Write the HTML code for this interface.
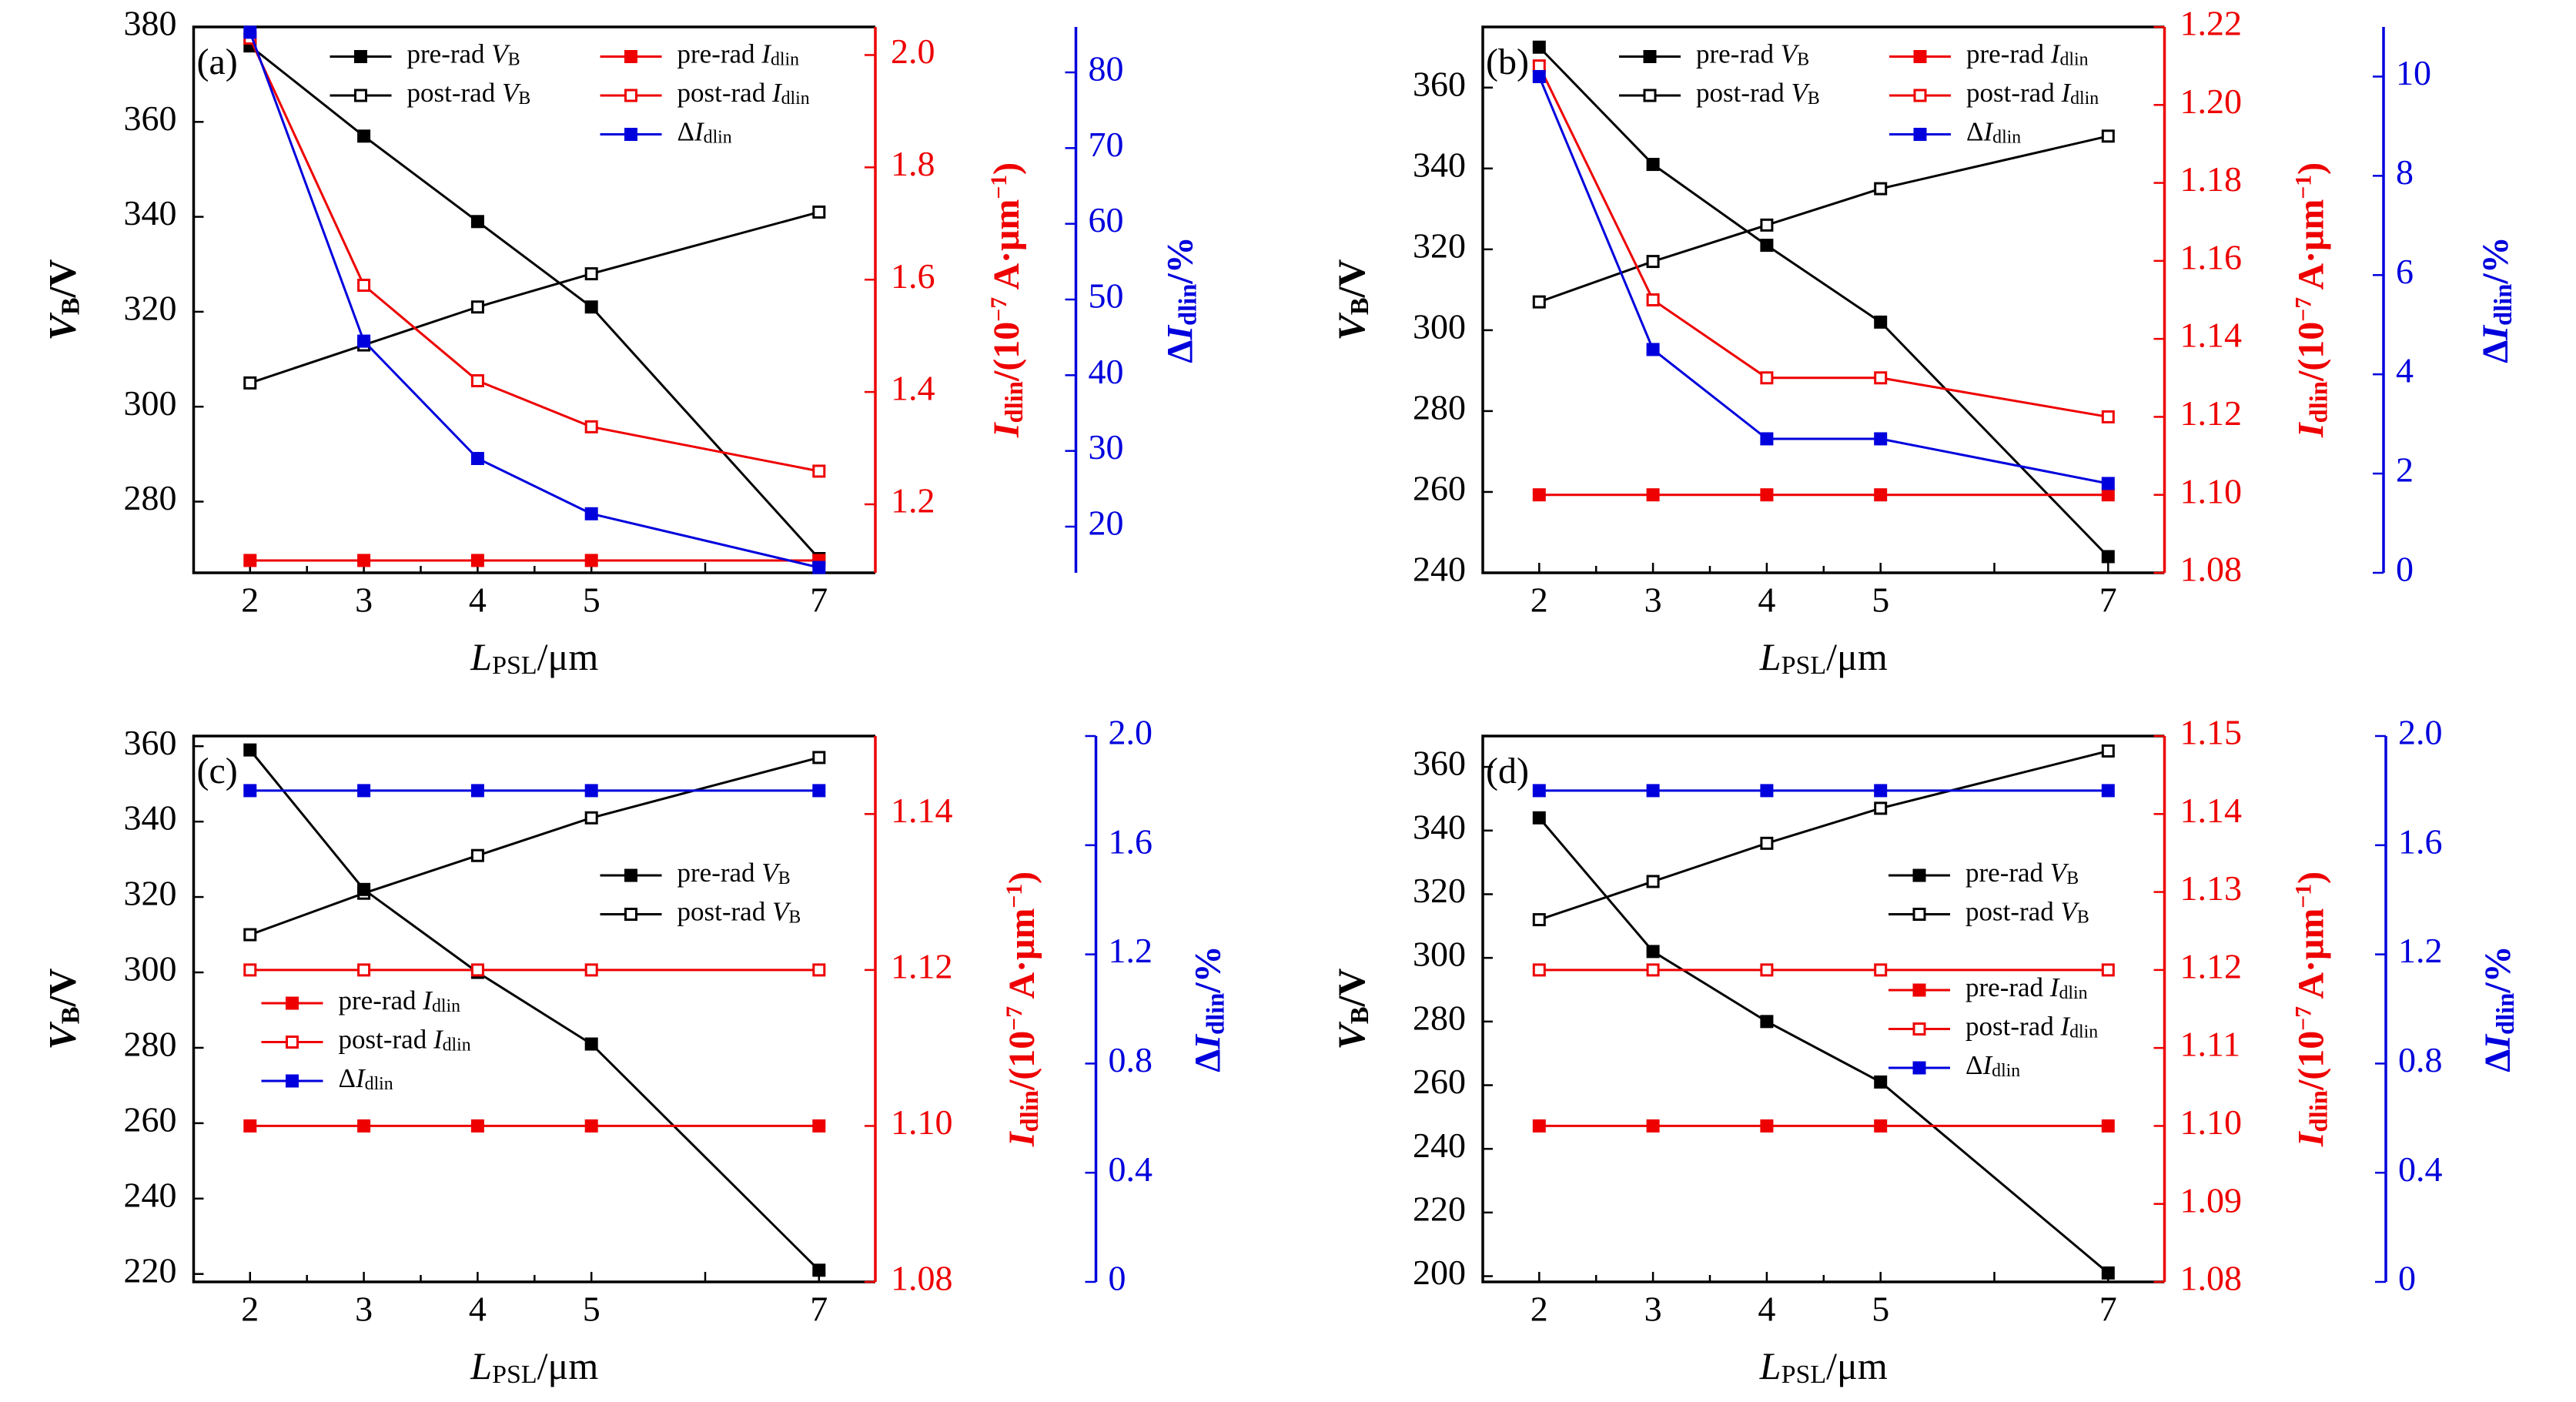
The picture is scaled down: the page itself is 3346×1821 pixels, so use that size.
<!DOCTYPE html>
<html><head><meta charset="utf-8">
<style>
html,body{margin:0;padding:0;background:#fff;}
svg{display:block;font-family:"Liberation Serif","DejaVu Serif",serif;}
</style></head>
<body>
<svg id="fig" width="3346" height="1821" viewBox="0 0 3346 1821" xmlns="http://www.w3.org/2000/svg"></svg>
<script>
// ---- data ----
const xCats = [2, 3, 4, 5, 7];
// panel (a)
const aPreVB = [376, 357, 339, 321, 268];
const aPostVB = [305, 313, 321, 328, 341];
const aPreI = [1.10, 1.10, 1.10, 1.10, 1.10];
const aPostI = [2.03, 1.59, 1.42, 1.338, 1.259];
const aDelta = [85.3, 44.5, 29.0, 21.7, 14.6];
const aVBTicks = [280, 300, 320, 340, 360, 380];
const aITicks = ["1.2", "1.4", "1.6", "1.8", "2.0"];
const aDTicks = [20, 30, 40, 50, 60, 70, 80];
// panel (b)
const bPreVB = [370, 341, 321, 302, 244];
const bPostVB = [307, 317, 326, 335, 348];
const bPreI = [1.10, 1.10, 1.10, 1.10, 1.10];
const bPostI = [1.21, 1.15, 1.13, 1.13, 1.12];
const bDelta = [10.0, 4.5, 2.7, 2.7, 1.8];
const bVBTicks = [240, 260, 280, 300, 320, 340, 360];
const bITicks = ["1.08", "1.10", "1.12", "1.14", "1.16", "1.18", "1.20", "1.22"];
const bDTicks = [0, 2, 4, 6, 8, 10];
// panel (c)
const cPreVB = [359, 322, 300, 281, 221];
const cPostVB = [310, 321, 331, 341, 357];
const cPreI = [1.10, 1.10, 1.10, 1.10, 1.10];
const cPostI = [1.12, 1.12, 1.12, 1.12, 1.12];
const cDelta = [1.8, 1.8, 1.8, 1.8, 1.8];
const cVBTicks = [220, 240, 260, 280, 300, 320, 340, 360];
const cITicks = ["1.08", "1.10", "1.12", "1.14"];
const cDTicks = ["0", "0.4", "0.8", "1.2", "1.6", "2.0"];
// panel (d)
const dPreVB = [344, 302, 280, 261, 201];
const dPostVB = [312, 324, 336, 347, 365];
const dPreI = [1.10, 1.10, 1.10, 1.10, 1.10];
const dPostI = [1.12, 1.12, 1.12, 1.12, 1.12];
const dDelta = [1.8, 1.8, 1.8, 1.8, 1.8];
const dVBTicks = [200, 220, 240, 260, 280, 300, 320, 340, 360];
const dITicks = ["1.08", "1.09", "1.10", "1.11", "1.12", "1.13", "1.14", "1.15"];
const dDTicks = ["0", "0.4", "0.8", "1.2", "1.6", "2.0"];

const NS = "http://www.w3.org/2000/svg";
const svg = document.getElementById("fig");
function mk(tag, attrs, parent) {
  const e = document.createElementNS(NS, tag);
  for (const k in attrs) e.setAttribute(k, attrs[k]);
  (parent || svg).appendChild(e);
  return e;
}
function richText(parent, x, y, parts, size, color, anchor, rot) {
  const t = mk("text", {x: x, y: y, "font-size": size, fill: color, "text-anchor": anchor || "start", "dominant-baseline": "middle"}, parent);
  if (rot) t.setAttribute("transform", "rotate(" + rot + " " + x + " " + y + ")");
  parts.forEach(p => {
    const s = mk("tspan", {}, t);
    s.textContent = p.t;
    if (p.i) s.setAttribute("font-style", "italic");
    if (p.b) s.setAttribute("font-weight", "bold");
    if (p.sub) { s.setAttribute("font-size", size * 0.68); s.setAttribute("baseline-shift", "-25%"); }
    if (p.sup) { s.setAttribute("font-size", size * 0.62); s.setAttribute("baseline-shift", "40%"); }
  });
  return t;
}

function panel(cfg) {
  const g = mk("g", {});
  
  
  const L = cfg.L, T = cfg.T, W = 885.5, H = 709, B = T + H, R = L + W, BX = L + cfg.bo;
  const sx = v => L + 73.3 + (v - 2) * 147.8;
  const sy = v => B - (v - cfg.vb[0]) / (cfg.vb[1] - cfg.vb[0]) * H;
  const si = v => B - (v - cfg.ir[0]) / (cfg.ir[1] - cfg.ir[0]) * H;
  const sd = v => B - (v - cfg.dr[0]) / (cfg.dr[1] - cfg.dr[0]) * H;

  const frame = mk("path", {d: `M${R},${T} L${L},${T} L${L},${B} L${R},${B}`, fill: "none", stroke: "#000", "stroke-width": 3.5}, g);
  
  
  const ra = mk("line", {x1: R, y1: T, x2: R, y2: B, stroke: "#e00", "stroke-width": 3.5}, g);
  
  
  const ba = mk("line", {x1: BX, y1: T, x2: BX, y2: B, stroke: "#00d", "stroke-width": 3.5}, g);
  
  

  [2, 2.5, 3, 3.5, 4, 4.5, 5, 6, 7].forEach(v => {
    const major = Number.isInteger(v);
    mk("line", {x1: sx(v), y1: B, x2: sx(v), y2: B - (major ? 13 : 9), stroke: "#000", "stroke-width": 2.5}, g);
  });
  xCats.forEach(v => {
    const t = mk("text", {x: sx(v), y: B + 40, "font-size": 46, "text-anchor": "middle", "dominant-baseline": "middle", fill: "#000"}, g);
    t.textContent = v;
    
    
  });
  cfg.vbTicks.forEach(v => {
    mk("line", {x1: L, y1: sy(v), x2: L + 13, y2: sy(v), stroke: "#000", "stroke-width": 2.5}, g);
    const t = mk("text", {x: L - 22, y: sy(v), "font-size": 46, "text-anchor": "end", "dominant-baseline": "middle", fill: "#000"}, g);
    t.textContent = v;
    
    
  });
  cfg.iTicks.forEach(s => {
    const v = parseFloat(s);
    mk("line", {x1: R, y1: si(v), x2: R - 14, y2: si(v), stroke: "#e00", "stroke-width": 2.5}, g);
    const t = mk("text", {x: R + 20, y: si(v), "font-size": 46, "text-anchor": "start", "dominant-baseline": "middle", fill: "#e00"}, g);
    t.textContent = s;
    
    
  });
  cfg.dTicks.forEach(s => {
    const v = parseFloat(s);
    mk("line", {x1: BX, y1: sd(v), x2: BX - 14, y2: sd(v), stroke: "#00d", "stroke-width": 2.5}, g);
    const t = mk("text", {x: BX + 16, y: sd(v), "font-size": 46, "text-anchor": "start", "dominant-baseline": "middle", fill: "#00d"}, g);
    t.textContent = s;
    
    
  });

  function series(name, vals, scale, color, filled) {
    const sg = mk("g", {}, g);
    
    
    const pts = vals.map((v, i) => sx(xCats[i]) + "," + scale(v)).join(" ");
    mk("polyline", {points: pts, fill: "none", stroke: color, "stroke-width": 3}, sg);
    vals.forEach((v, i) => {
      const s = filled ? 17 : 14;
      const r = mk("rect", {x: sx(xCats[i]) - s / 2, y: scale(v) - s / 2, width: s, height: s,
        fill: filled ? color : "#fff", stroke: color, "stroke-width": filled ? 0 : 3}, sg);
      
      
    });
  }
  series("post-rad-vb-series", cfg.postVB, sy, "#000", false);
  series("pre-rad-vb-series", cfg.preVB, sy, "#000", true);
  series("pre-rad-idlin-series", cfg.preI, si, "#e00", true);
  series("post-rad-idlin-series", cfg.postI, si, "#e00", false);
  series("delta-idlin-series", cfg.delta, sd, "#00d", true);

  function legendEntry(x, y, color, filled, parts) {
    const lg = mk("g", {}, g);
    
    
    mk("line", {x1: x, y1: y, x2: x + 80, y2: y, stroke: color, "stroke-width": 3}, lg);
    const s = filled ? 17 : 14;
    mk("rect", {x: x + 40 - s / 2, y: y - s / 2, width: s, height: s, fill: filled ? color : "#fff", stroke: color, "stroke-width": filled ? 0 : 3}, lg);
    richText(lg, x + 100, y, parts, 35, "#000");
  }
  const VB = (p) => [{t: p + " "}, {t: "V", i: 1}, {t: "B", sub: 1}];
  const ID = (p) => [{t: p + " "}, {t: "I", i: 1}, {t: "dlin", sub: 1}];
  const DL = [{t: "Δ"}, {t: "I", i: 1}, {t: "dlin", sub: 1}];
  const lv = cfg.legV, li = cfg.legI;
  legendEntry(L + lv[0], lv[1], "#000", true, VB("pre-rad"));
  legendEntry(L + lv[0], lv[1] + 50.5, "#000", false, VB("post-rad"));
  legendEntry(L + li[0], li[1], "#e00", true, ID("pre-rad"));
  legendEntry(L + li[0], li[1] + 50.5, "#e00", false, ID("post-rad"));
  legendEntry(L + li[0], li[1] + 101, "#00d", true, DL);

  const pl = mk("text", {x: L + 4, y: T + 50, "font-size": 48, "dominant-baseline": "middle", fill: "#000"}, g);
  pl.textContent = "(" + cfg.label + ")";
  
  

  const xt = richText(g, L + W / 2, B + 115, [{t: "L", i: 1}, {t: "PSL", sub: 1}, {t: "/μm"}], 50, "#000", "middle");
  
  
  const yt = richText(g, L - 165, T + H / 2, [{t: "V", i: 1, b: 1}, {t: "B", sub: 1, b: 1}, {t: "/V", b: 1}], 50, "#000", "middle", -90);
  
  
  const rt = richText(g, R + cfg.rto, T + H / 2, [{t: "I", i: 1, b: 1}, {t: "dlin", sub: 1, b: 1}, {t: "/(10", b: 1}, {t: "−7", sup: 1, b: 1}, {t: " A·μm", b: 1}, {t: "−1", sup: 1, b: 1}, {t: ")", b: 1}], 48, "#e00", "middle", -90);
  
  
  const dt = richText(g, BX + cfg.bto, T + H / 2, [{t: "Δ", b: 1}, {t: "I", i: 1, b: 1}, {t: "dlin", sub: 1, b: 1}, {t: "/%", b: 1}], 48, "#00d", "middle", -90);
  
  
}

panel({label: "a", L: 251.5, T: 35, vb: [265, 380], ir: [1.078, 2.05], dr: [13.9, 86.0], bo: 1146, rto: 175, bto: 140,
  preVB: aPreVB, postVB: aPostVB, preI: aPreI, postI: aPostI, delta: aDelta,
  vbTicks: aVBTicks, iTicks: aITicks, dTicks: aDTicks, legV: [177, 73.5], legI: [528, 73.5]});
panel({label: "b", L: 1926, T: 35, vb: [240, 375], ir: [1.08, 1.22], dr: [0, 11.0], bo: 1170, rto: 195, bto: 150,
  preVB: bPreVB, postVB: bPostVB, preI: bPreI, postI: bPostI, delta: bDelta,
  vbTicks: bVBTicks, iTicks: bITicks, dTicks: bDTicks, legV: [177, 73.5], legI: [528, 73.5]});
panel({label: "c", L: 251.5, T: 956, vb: [217.9, 362.7], ir: [1.08, 1.15], dr: [0, 2.0], bo: 1172, rto: 195, bto: 150,
  preVB: cPreVB, postVB: cPostVB, preI: cPreI, postI: cPostI, delta: cDelta,
  vbTicks: cVBTicks, iTicks: cITicks, dTicks: cDTicks, legV: [528, 1137], legI: [88, 1303]});
panel({label: "d", L: 1926, T: 956, vb: [198.2, 369.7], ir: [1.08, 1.15], dr: [0, 2.0], bo: 1173, rto: 195, bto: 150,
  preVB: dPreVB, postVB: dPostVB, preI: dPreI, postI: dPostI, delta: dDelta,
  vbTicks: dVBTicks, iTicks: dITicks, dTicks: dDTicks, legV: [527, 1137], legI: [527, 1286]});
</script>
</body></html>
